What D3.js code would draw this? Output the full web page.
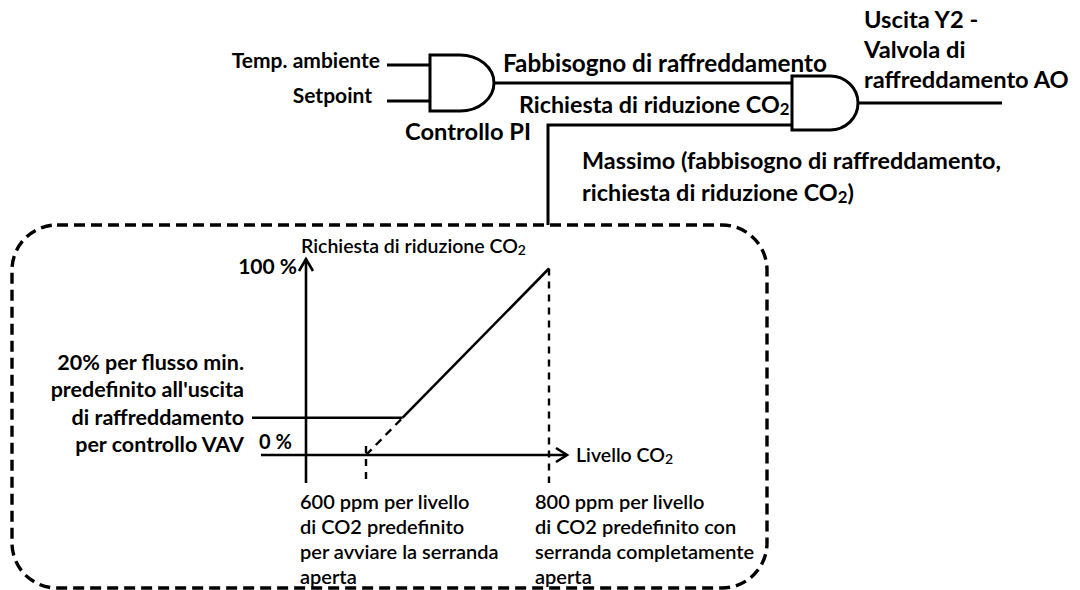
<!DOCTYPE html>
<html><head><meta charset="utf-8">
<script src="https://cdn.jsdelivr.net/npm/d3@7"></script>
<style>html,body{margin:0;padding:0;background:#fff}svg{display:block}</style>
</head><body>
<svg id="c" width="1080" height="590"></svg>
<script>
// ---------- data ----------
const thresholdsPpm = [600, 800];          // dashed vertical markers
const startPpm = [600, 640];               // dashed start of ramp
const startPct = [0, 20];
const rampPpm = [640, 800];                // solid ramp
const rampPct = [20, 100];
const minFlowPct = 20;                     // horizontal minimum-flow line
const pctDomain = [0, 100];
const pctTickLabels = ["0 %", "100 %"];
const yAxisTitle = "Richiesta di riduzione CO{2}";
const xAxisTitle = "Livello CO{2}";
const minFlowLabel = ["20% per flusso min.", "predefinito all'uscita", "di raffreddamento", "per controllo VAV"];
const lowNote = ["600 ppm per livello", "di CO2 predefinito", "per avviare la serranda", "aperta"];
const highNote = ["800 ppm per livello", "di CO2 predefinito con", "serranda completamente", "aperta"];
const gate1Inputs = ["Temp. ambiente", "Setpoint"];
const gate1Name = "Controllo PI";
const gate2Inputs = ["Fabbisogno di raffreddamento", "Richiesta di riduzione CO{2}"];
const outputLabel = ["Uscita Y2 -", "Valvola di", "raffreddamento AO"];
const maxLabel = ["Massimo (fabbisogno di raffreddamento,", "richiesta di riduzione CO{2})"];

// ---------- setup ----------
const svg = d3.select("#c");
const FONT = "Lato, 'Open Sans', sans-serif";
svg.attr("font-family", FONT).attr("fill", "#000");

function txt(g, str, x, y, size, anchor, weight) {
  const t = g.append("text").attr("x", x).attr("y", y)
    .attr("font-size", size).attr("text-anchor", anchor || "start")
    .attr("font-weight", weight || 700);
  const parts = str.split(/(\{2\})/);
  let shifted = false;
  parts.forEach(p => {
    if (!p) return;
    if (p === "{2}") {
      t.append("tspan").attr("font-size", size * 0.72).attr("dy", size * 0.1).text("2");
      shifted = true;
    } else {
      const ts = t.append("tspan").text(p);
      if (shifted) { ts.attr("dy", -size * 0.1); shifted = false; }
    }
  });
  return t;
}
function line(g, pts, w, dash) {
  const p = g.append("path").attr("d", d3.line()(pts))
    .attr("fill", "none").attr("stroke", "#000").attr("stroke-width", w || 3)
    .attr("stroke-linejoin", "miter");
  if (dash) p.attr("stroke-dasharray", dash);
  return p;
}
function andGate(g, x0, y0, flatW, h, rx) {
  g.append("path")
    .attr("d", `M${x0},${y0} H${x0 + flatW} A${rx},${h / 2} 0 0 1 ${x0 + flatW},${y0 + h} H${x0} Z`)
    .attr("fill", "#fff").attr("stroke", "#000").attr("stroke-width", 3);
  return { apexX: x0 + flatW + rx, midY: y0 + h / 2 };
}

// ---------- top logic diagram ----------
const topG = svg.append("g");
const TOPSZ = 23.7;
// gate 1
line(topG, [[387, 65], [430, 65]]);
line(topG, [[387, 101], [430, 101]]);
const g1 = andGate(topG, 430, 55, 30, 56, 34);
txt(topG, gate1Inputs[0], 380, 68, 21, "end");
txt(topG, gate1Inputs[1], 372, 103, 21, "end");
txt(topG, gate1Name, 405, 140, TOPSZ);
// gate 2 inputs
line(topG, [[g1.apexX, g1.midY], [792, g1.midY]]);
line(topG, [[548, 225], [548, 125], [792, 125]]);
const g2 = andGate(topG, 792, 76, 38, 54, 28);
line(topG, [[g2.apexX, g2.midY], [1002, g2.midY]]);
txt(topG, gate2Inputs[0], 503, 72, 24.3);
txt(topG, gate2Inputs[1], 519, 113, 23.3);
outputLabel.forEach((s, i) => txt(topG, s, 864, 28 + i * 30, TOPSZ));
maxLabel.forEach((s, i) => txt(topG, s, 582, 169 + i * 32, 23.4));

// ---------- dashed container ----------
svg.append("rect").attr("x", 12).attr("y", 225).attr("width", 755).attr("height", 363)
  .attr("rx", 45).attr("ry", 45)
  .attr("fill", "none").attr("stroke", "#000").attr("stroke-width", 3.4)
  .attr("stroke-dasharray", "11,6");

// ---------- inner chart ----------
const ch = svg.append("g");
const x = d3.scaleLinear().domain(thresholdsPpm).range([366, 549]);
const y = d3.scaleLinear().domain(pctDomain).range([455, 268.5]);
const axisX = 306;       // y-axis position
const CSZ = 20;

// axes
line(ch, [[axisX, 483], [axisX, 259]], 2.6);
line(ch, [[axisX - 7, 271], [axisX, 259], [axisX + 7, 271]], 2.6);
line(ch, [[261, y(0)], [567, y(0)]], 2.6);
line(ch, [[556, y(0) - 7], [567, y(0)], [556, y(0) + 7]], 2.6);

// threshold dashed verticals
thresholdsPpm.forEach((v, i) => {
  const topY = i === 0 ? y(0) - 9 : y(rampPct[1]);
  line(ch, [[x(v), topY], [x(v), 483]], 2.4, "7,6");
});
// dashed start of ramp
line(ch, startPpm.map((v, i) => [x(v), y(startPct[i])]), 2.4, "8,6");
// solid ramp
line(ch, rampPpm.map((v, i) => [x(v), y(rampPct[i])]), 2.6);
// min flow line
line(ch, [[252, y(minFlowPct)], [x(rampPpm[0]), y(minFlowPct)]], 2.6);

// labels
txt(ch, yAxisTitle, 301, 253, 19.5, "start", 600);
txt(ch, pctTickLabels[1], 297, 274, 21, "end", 700);
txt(ch, pctTickLabels[0], 259, 449, 20, "start", 700);
txt(ch, xAxisTitle, 576, 462, 19.5, "start", 600);
minFlowLabel.forEach((s, i) => txt(ch, s, 244, y(minFlowPct) + 7 + (i - 2) * 27.5, 21.5, "end", 700));
lowNote.forEach((s, i) => txt(ch, s, 300, 509 + i * 25, CSZ, "start", 600));
highNote.forEach((s, i) => txt(ch, s, 535, 509 + i * 25, CSZ, "start", 600));
</script>
</body></html>
